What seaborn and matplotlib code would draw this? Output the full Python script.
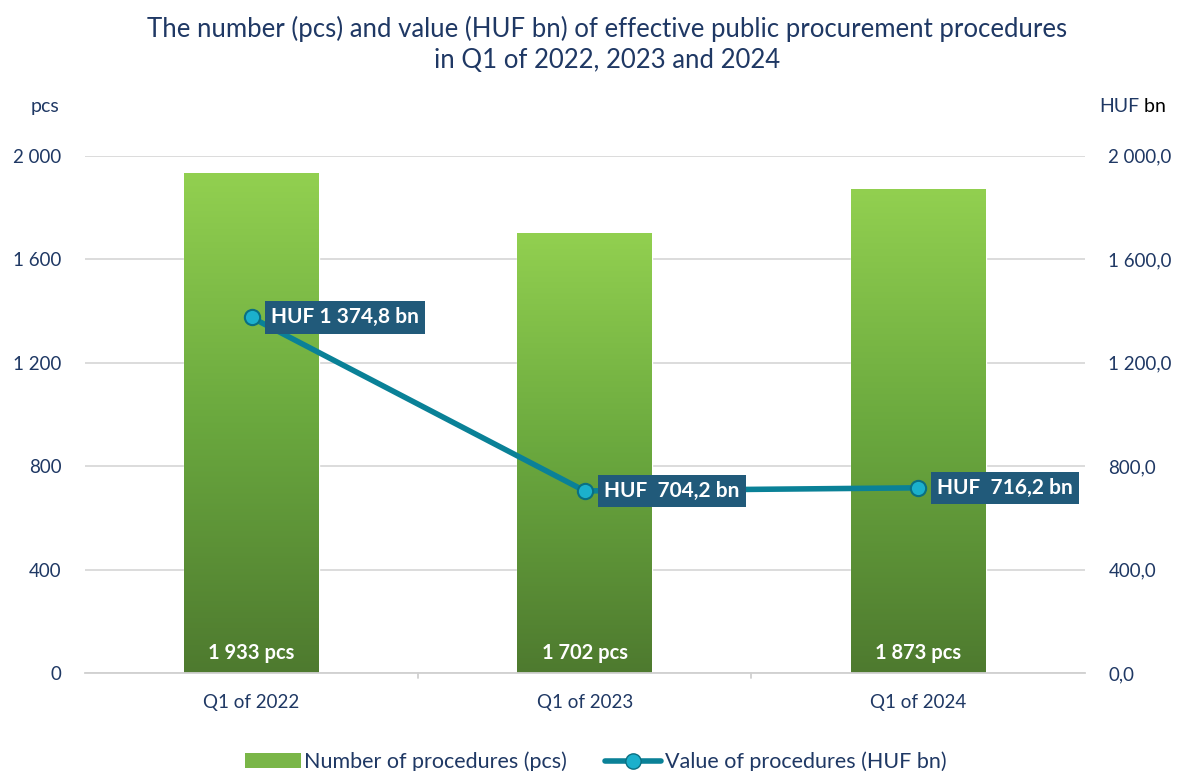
import matplotlib
matplotlib.use("Agg")
import matplotlib.pyplot as plt
import seaborn as sns
import numpy as np
import pandas as pd
from matplotlib.colors import LinearSegmentedColormap
from matplotlib.lines import Line2D
from matplotlib.patches import Patch
from matplotlib.text import Annotation

categories = ["Q1 of 2022", "Q1 of 2023", "Q1 of 2024"]
counts = [1933, 1702, 1873]
values = [1374.8, 704.2, 716.2]
count_labels = ["1 933 pcs", "1 702 pcs", "1 873 pcs"]
value_labels = ["HUF 1 374,8 bn", "HUF  704,2 bn", "HUF  716,2 bn"]
left_ticks = [0, 400, 800, 1200, 1600, 2000]
left_tick_labels = ["0", "400", "800", "1 200", "1 600", "2 000"]
right_tick_labels = ["0,0", "400,0", "800,0", "1 200,0", "1 600,0", "2 000,0"]

sns.set_theme(style="white")
plt.rcParams["font.family"] = ["Lato", "DejaVu Sans"]

navy = "#1f3864"
df = pd.DataFrame({"cat": categories, "count": counts, "value": values})

fig = plt.figure(figsize=(11.79, 7.71), dpi=100)
ax = fig.add_axes([0.072, 0.127, 0.848, 0.671])

sns.barplot(data=df, x="cat", y="count", ax=ax, width=0.405, color="#7ab648",
            saturation=1, zorder=2)
ax.set_ylim(0, 2000)
ax.set_xlim(-0.5, 2.5)

# gradient on bars
cmap = LinearSegmentedColormap.from_list("g", ["#4e7a2f", "#6aa83e", "#92d050"])
grad = np.linspace(0, 1, 256).reshape(-1, 1)
for p in ax.patches:
    x0, y0 = p.get_x(), p.get_y()
    w, h = p.get_width(), p.get_height()
    im = ax.imshow(grad, extent=[x0, x0 + w, y0, y0 + h], origin="lower",
                   cmap=cmap, aspect="auto", zorder=2.1)
    im.set_clip_path(p)
ax.set_xlim(-0.5, 2.5)
ax.set_ylim(0, 2000)

for i, lab in enumerate(count_labels):
    ax.text(i, 40, lab, ha="center", va="bottom", color="white",
            fontsize=14.5, fontweight="bold", zorder=5)

ax.set_yticks(left_ticks)
ax.set_yticklabels(left_tick_labels)
ax.yaxis.grid(True, color="#d9d9d9", linewidth=1.3, zorder=0)
ax.set_axisbelow(True)
for s in ["top", "right", "left"]:
    ax.spines[s].set_visible(False)
ax.spines["bottom"].set_color("#d0d0d0")
ax.spines["bottom"].set_linewidth(1.3)
ax.tick_params(axis="y", length=0, labelsize=13.5, labelcolor=navy, pad=17)
ax.tick_params(axis="x", length=0, labelsize=13.5, labelcolor=navy, pad=15)
ax.set_xlabel("")
ax.set_ylabel("")
for xb in [0.5, 1.5]:
    ax.plot([xb, xb], [0, -18], color="#d0d0d0", lw=1.3, clip_on=False, zorder=1)

ax2 = ax.twinx()
ax2.set_ylim(0, 2000)
ax2.set_yticks(left_ticks)
ax2.set_yticklabels(right_tick_labels)
ax2.tick_params(axis="y", length=0, labelsize=13.5, labelcolor=navy, pad=17)
for s in ["top", "right", "left", "bottom"]:
    ax2.spines[s].set_visible(False)
ax2.grid(False)
sns.lineplot(x=[0, 1, 2], y=values, ax=ax2, color="#0a8197", linewidth=4,
             marker="o", markersize=11, markerfacecolor="#1bb0cc",
             markeredgecolor="#0a6f82", markeredgewidth=1.5, zorder=4)
ax2.set_xlim(-0.5, 2.5)
ax2.set_ylabel("")

for i, (v, lab) in enumerate(zip(values, value_labels)):
    ax2.annotate(lab, (i, v), xytext=(14, 0), textcoords="offset points",
                 ha="left", va="center", color="white", fontsize=15,
                 fontweight="bold", zorder=6,
                 bbox=dict(boxstyle="square,pad=0.3", fc="#215a7a", ec="none"))

fig.text(0.515, 0.942, "The number (pcs) and value (HUF bn) of effective public procurement procedures\nin Q1 of 2022, 2023 and 2024",
         ha="center", va="center", fontsize=18.5, color=navy, linespacing=1.3)
fig.text(0.038, 0.862, "pcs", ha="center", va="center", fontsize=14, color=navy)
t1 = fig.text(0.932, 0.862, "HUF", ha="left", va="center", fontsize=14, color=navy)
fig.add_artist(Annotation(" bn", xy=(1, 0.5), xycoords=t1, ha="left", va="center",
                          fontsize=14, color="black"))

handles = [Patch(facecolor="#7ab648", edgecolor="none"),
           Line2D([0], [0], color="#0a8197", lw=4, marker="o", markersize=11,
                  markerfacecolor="#1bb0cc", markeredgecolor="#0a6f82")]
fig.legend(handles, ["Number of procedures (pcs)", "Value of procedures (HUF bn)"],
           loc="center", bbox_to_anchor=(0.505, 0.012), ncol=2, frameon=False,
           fontsize=15.5, labelcolor=navy, handlelength=2.6, handletextpad=0.15,
           columnspacing=1.8)

fig.savefig("out.png", dpi=100)
